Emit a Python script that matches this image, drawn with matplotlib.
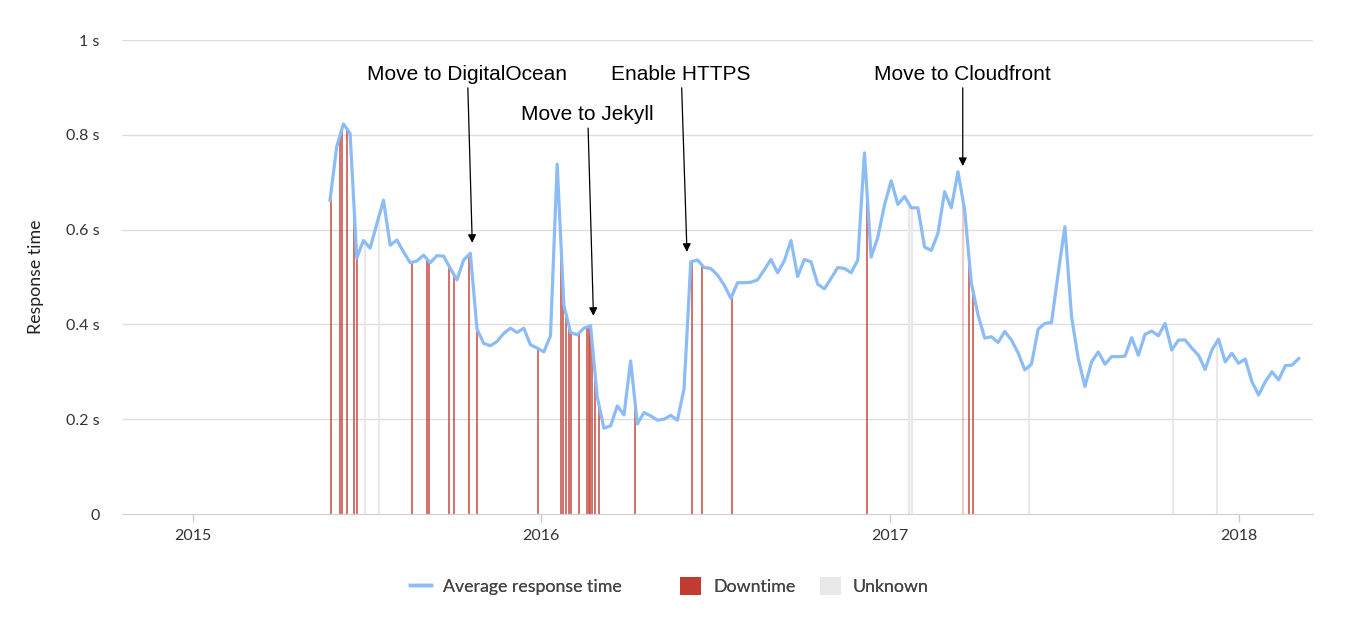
import numpy as np
import pandas as pd
import matplotlib
matplotlib.use("Agg")
import matplotlib.pyplot as plt
import matplotlib.dates as mdates
from matplotlib.lines import Line2D
from matplotlib.patches import Patch

# weekly average response time (seconds), first week starting 2015-05-25
start_date = "2015-05-25"
response_time = [
    0.662, 0.775, 0.823, 0.803, 0.540, 0.577, 0.561, 0.612, 0.662, 0.567,
    0.578, 0.553, 0.530, 0.534, 0.546, 0.530, 0.545, 0.544, 0.518, 0.494,
    0.536, 0.550, 0.390, 0.360, 0.355, 0.364, 0.381, 0.392, 0.383, 0.392,
    0.357, 0.350, 0.342, 0.376, 0.738, 0.441, 0.383, 0.378, 0.392, 0.397,
    0.247, 0.181, 0.186, 0.228, 0.209, 0.323, 0.190, 0.214, 0.207, 0.198,
    0.200, 0.208, 0.198, 0.265, 0.532, 0.536, 0.520, 0.518, 0.504, 0.483,
    0.455, 0.488, 0.488, 0.489, 0.494, 0.515, 0.537, 0.509, 0.534, 0.577,
    0.501, 0.537, 0.532, 0.485, 0.475, 0.497, 0.520, 0.518, 0.509, 0.536,
    0.762, 0.542, 0.584, 0.652, 0.703, 0.653, 0.670, 0.646, 0.646, 0.563,
    0.556, 0.592, 0.680, 0.646, 0.722, 0.641, 0.487, 0.420, 0.371, 0.374,
    0.362, 0.385, 0.367, 0.340, 0.304, 0.316, 0.390, 0.402, 0.404, 0.508,
    0.606, 0.416, 0.328, 0.269, 0.321, 0.342, 0.316, 0.332, 0.332, 0.333,
    0.372, 0.335, 0.379, 0.386, 0.376, 0.402, 0.346, 0.367, 0.367, 0.350,
    0.335, 0.305, 0.346, 0.369, 0.321, 0.339, 0.318, 0.327, 0.279, 0.251,
    0.279, 0.300, 0.283, 0.313, 0.314, 0.328,
]

downtime_dates = [
    "2015-05-26", "2015-06-04", "2015-06-07", "2015-06-12", "2015-06-19",
    "2015-06-22", "2015-08-19", "2015-09-04", "2015-09-06", "2015-09-27",
    "2015-10-02", "2015-10-18", "2015-10-26", "2015-12-29", "2016-01-22",
    "2016-01-24", "2016-01-27", "2016-01-30", "2016-02-01", "2016-02-10",
    "2016-02-18", "2016-02-20", "2016-02-21", "2016-02-24", "2016-02-27",
    "2016-03-02", "2016-04-09", "2016-06-07", "2016-06-18", "2016-07-19",
    "2016-12-08", "2017-03-25", "2017-03-29",
]
partial_downtime_dates = ["2017-03-18"]
unknown_dates = [
    "2015-07-01", "2015-07-15", "2017-01-21", "2017-01-24",
    "2017-05-26", "2017-10-24", "2017-12-09",
]

# annotations: label, text position (date, value), arrow tip (date, value)
note_labels = ["Move to DigitalOcean", "Move to Jekyll", "Enable HTTPS", "Move to Cloudfront"]
note_text_dates = ["2015-10-16", "2016-02-19", "2016-05-27", "2017-03-18"]
note_text_values = [0.928, 0.843, 0.928, 0.928]
note_tip_dates = ["2015-10-21", "2016-02-25", "2016-06-02", "2017-03-18"]
note_tip_values = [0.572, 0.418, 0.553, 0.734]

y_ticks = [0, 0.2, 0.4, 0.6, 0.8, 1.0]
y_tick_labels = ["0", "0.2 s", "0.4 s", "0.6 s", "0.8 s", "1 s"]

legend_labels = ["Average response time", "Downtime", "Unknown"]

LINE_BLUE = "#8cbcf6"
DOWN_RED = "#c23b32"
UNKNOWN_GREY = "#e8e8e8"
TEXT = "#333333"
FONT = "Lato"

dates = pd.date_range(start_date, periods=len(response_time), freq="7D")
date_nums = mdates.date2num(dates)
values = np.array(response_time)


def bar_heights(day_list):
    """height of a marker line = response time at that day"""
    nums = mdates.date2num(pd.to_datetime(day_list))
    return nums, np.interp(nums, date_nums, values)


fig = plt.figure(figsize=(13.53, 6.17), dpi=100)
ax = fig.add_axes([122 / 1353, 1 - 514 / 617, 1191 / 1353, 474 / 617])

for y in y_ticks[1:]:
    ax.axhline(y, color="#dedede", lw=1.0, zorder=0)

x, h = bar_heights(unknown_dates)
ax.vlines(x, 0, h, colors=UNKNOWN_GREY, lw=1.6, zorder=1)
x, h = bar_heights(partial_downtime_dates)
ax.vlines(x, 0, h, colors=DOWN_RED, alpha=0.25, lw=1.6, zorder=1)
x, h = bar_heights(downtime_dates)
ax.vlines(x, 0, h, colors=DOWN_RED, alpha=0.85, lw=1.2, zorder=2)

ax.plot(date_nums, values, color=LINE_BLUE, lw=2.3, zorder=3,
        solid_joinstyle="round")

for label, td, tv, pd_, pv in zip(note_labels, note_text_dates, note_text_values,
                                  note_tip_dates, note_tip_values):
    ax.annotate(label,
                xy=(mdates.date2num(pd.Timestamp(pd_)), pv),
                xytext=(mdates.date2num(pd.Timestamp(td)), tv),
                ha="center", va="center", fontsize=15,
                family="Liberation Sans", color="black",
                arrowprops=dict(arrowstyle="-|>", color="black", lw=0.9,
                                mutation_scale=12, shrinkA=1, shrinkB=0),
                zorder=5)

ax.set_ylim(0, 1)
ax.set_xlim(mdates.date2num(pd.Timestamp("2014-10-19")),
            mdates.date2num(pd.Timestamp("2018-03-20")))
ax.set_yticks(y_ticks)
ax.set_yticklabels(y_tick_labels)
ax.xaxis.set_major_locator(mdates.YearLocator())
ax.xaxis.set_major_formatter(mdates.DateFormatter("%Y"))

for side in ["top", "right", "left"]:
    ax.spines[side].set_visible(False)
ax.spines["bottom"].set_color("#d0d0d0")
ax.tick_params(axis="y", length=0, pad=16, labelsize=11.5, labelcolor=TEXT)
ax.tick_params(axis="x", length=6, width=1, color="#cccccc", pad=5,
               labelsize=11.5, labelcolor=TEXT)
for lbl in ax.get_xticklabels() + ax.get_yticklabels():
    lbl.set_family(FONT)

ax.set_ylabel("Response time", fontsize=12.8, color="#222222", family=FONT)
ax.yaxis.set_label_coords(-0.0655, 0.5)

# legend entries sit at fixed slots along the bottom, like the original
handles = [
    Line2D([], [], color=LINE_BLUE, lw=2.5),
    Patch(facecolor=DOWN_RED, edgecolor="none"),
    Patch(facecolor=UNKNOWN_GREY, edgecolor="none"),
]
legend_left_px = [410, 680, 820]
for handle, label, left in zip(handles, legend_labels, legend_left_px):
    leg = fig.legend([handle], [label], loc="center left",
                     bbox_to_anchor=(left / 1353, 0.050), frameon=False,
                     borderpad=0, borderaxespad=0,
                     prop={"family": FONT, "size": 12.8}, labelcolor="#444444",
                     handlelength=1.2, handleheight=1.2, handletextpad=0.65)
    fig.add_artist(leg)

fig.savefig("out.png", dpi=100)
